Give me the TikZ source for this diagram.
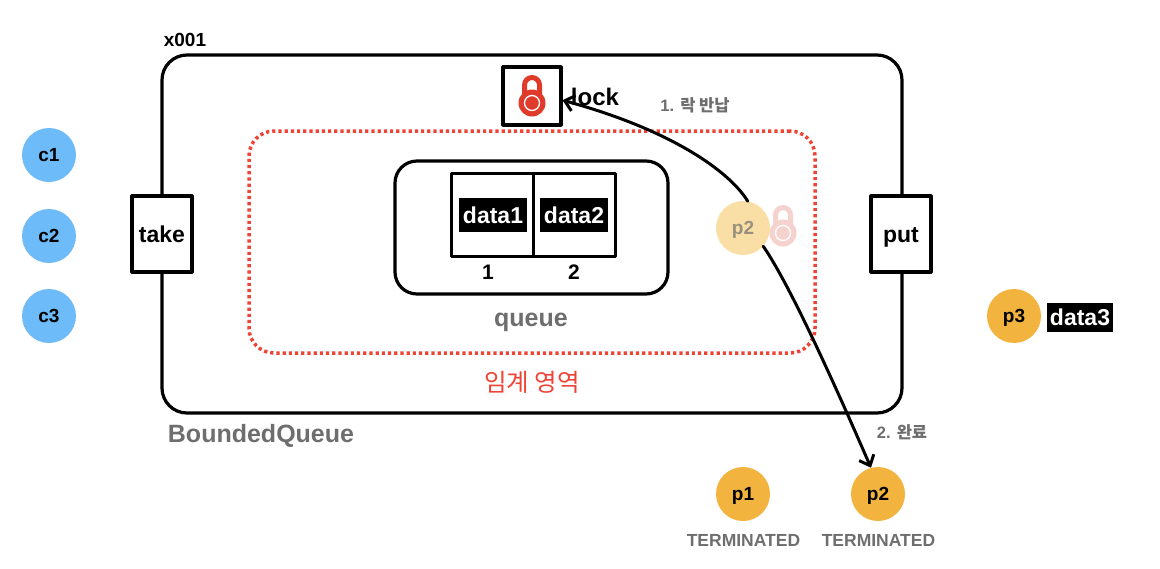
\documentclass[tikz,border=0pt]{standalone}
\usepackage{fontspec}
\setsansfont{Liberation Sans}
\newfontfamily\krfont{Noto Sans CJK KR}
\usetikzlibrary{arrows.meta}
\definecolor{threadblue}{HTML}{6DBBF8}
\definecolor{threadorange}{HTML}{F2B33F}
\definecolor{threadfade}{HTML}{F9DFA5}
\definecolor{lockred}{HTML}{E03A2A}
\definecolor{lockfade}{HTML}{F6D2CE}
\definecolor{labelgray}{HTML}{6E6E6E}
\definecolor{areared}{HTML}{EE4335}
\tikzset{
  frame/.style={draw=black, line width=3.2pt, fill=white},
  thread/.style={circle, inner sep=0pt, minimum size=54pt, text height=16pt, text depth=3pt, font=\fontsize{19}{23}\sffamily\bfseries},
  method/.style={frame, inner sep=0pt, minimum width=60pt, minimum height=76pt, text height=22pt, text depth=5pt, font=\fontsize{23}{28}\sffamily\bfseries},
  slot/.style={draw=black, line width=3pt, inner sep=0pt, minimum width=82pt, minimum height=83pt},
  datatag/.style={fill=black, text=white, inner sep=0pt, minimum width=68pt, minimum height=34pt, font=\fontsize{23}{28}\sffamily\bfseries},
  gray label/.style={text=labelgray, inner sep=0pt, font=\fontsize{25}{30}\sffamily\bfseries},
  step label/.style={text=labelgray, inner sep=0pt, font=\fontsize{16.5}{20}\sffamily\bfseries},
  flow/.style={draw=black, line width=3pt, line cap=round, -{Straight Barb[length=9pt,width=16pt,line width=3pt]}},
  pics/lockicon/.style={code={
    \draw[#1, line width=5pt, line cap=butt] (-7.5,-9) -- (-7.5,-18) arc[start angle=180, end angle=360, radius=7.5] -- (7.5,-9);
    \fill[#1] (0,0) circle[radius=13.5];
    \draw[white, line width=1.3pt] (0,0) circle[radius=7.5];
  }}
}
\begin{document}
\begin{tikzpicture}[x=1pt, y=-1pt, line cap=round, line join=round]

  %% ==== boxes ====
  \node[frame, rounded corners=25pt, inner sep=0pt, minimum width=740pt, minimum height=358pt] (boundedqueue) at (532,234) {};
  \node[draw=areared, line width=3.5pt, line cap=butt, dash pattern=on 3.2pt off 3pt, rounded corners=25pt, inner sep=0pt, minimum width=566pt, minimum height=222pt] (criticalarea) at (532,242) {};
  \node[frame, rounded corners=22pt, inner sep=0pt, minimum width=273pt, minimum height=133pt] (queuebox) at (531.5,227.5) {};

  %% ==== queue slots ====
  \node[slot] (slot1) at (492,214.5) {};
  \node[slot] (slot2) at (574,214.5) {};
  \node[datatag] (data1) at (493,215) {data1};
  \node[datatag] (data2) at (574,215) {data2};
  \node[inner sep=0pt, font=\fontsize{21}{25}\sffamily\bfseries] (index1) at (488,272) {1};
  \node[inner sep=0pt, font=\fontsize{21}{25}\sffamily\bfseries] (index2) at (574,272) {2};

  %% ==== methods and lock ====
  \node[method] (take) at (162,234) {take};
  \node[method] (put) at (901,234) {put};
  \node[frame, inner sep=0pt, minimum size=58pt] (lockbox) at (532,96) {};
  \pic at (532,103) {lockicon=lockred};
  \node[inner sep=0pt, font=\fontsize{24}{29}\sffamily\bfseries] (locklabel) at (595,97) {lock};

  %% ==== labels ====
  \node[inner sep=0pt, font=\fontsize{19}{23}\sffamily\bfseries] (boxid) at (185,40) {x001};
  \node[gray label] (queuelabel) at (531,322) {queue};
  \node[gray label] (boundedlabel) at (261,436) {BoundedQueue};
  \node[inner sep=0pt, text=areared, font=\fontsize{24.5}{30}\krfont] (arealabel) at (532,382) {임계 영역};
  \node[step label] (step1) at (695,105) {1. {\krfont\bfseries 락 반납}};
  \node[step label] (step2) at (902,432) {2. {\krfont\bfseries 완료}};

  %% ==== threads ====
  \node[thread, fill=threadblue] (c1) at (49,155) {c1};
  \node[thread, fill=threadblue] (c2) at (49,236) {c2};
  \node[thread, fill=threadblue] (c3) at (49,316) {c3};
  \node[thread, fill=threadorange] (p3) at (1014,316) {p3};
  \node[datatag, minimum width=66pt, minimum height=29pt] (data3) at (1080,317.5) {data3};
  \node[thread, fill=threadorange] (p1) at (743,494) {p1};
  \node[thread, fill=threadorange] (p2) at (878,494) {p2};
  \node[inner sep=0pt, text=labelgray, font=\fontsize{17.5}{21}\sffamily\bfseries] (term1) at (743.5,540) {TERMINATED};
  \node[inner sep=0pt, text=labelgray, font=\fontsize{17.5}{21}\sffamily\bfseries] (term2) at (878.5,540) {TERMINATED};

  %% ==== returning thread ====
  \coordinate (faintlock) at (783,233);
  \pic at (faintlock) {lockicon=lockfade};
  \node[thread, fill=threadfade, text=labelgray!70!threadfade] (p2fade) at (743,228) {p2};

  %% ==== arrows ====
  \draw[flow] (p2fade.80) .. controls (730,172) and (672,130) .. (lockbox.-8);
  \draw[flow] (p2fade.-42) .. controls (790,285) and (835,385) .. (p2.105);

  \pgfresetboundingbox
  \path[use as bounding box] (0,0) rectangle (1160,568);
\end{tikzpicture}
\end{document}
